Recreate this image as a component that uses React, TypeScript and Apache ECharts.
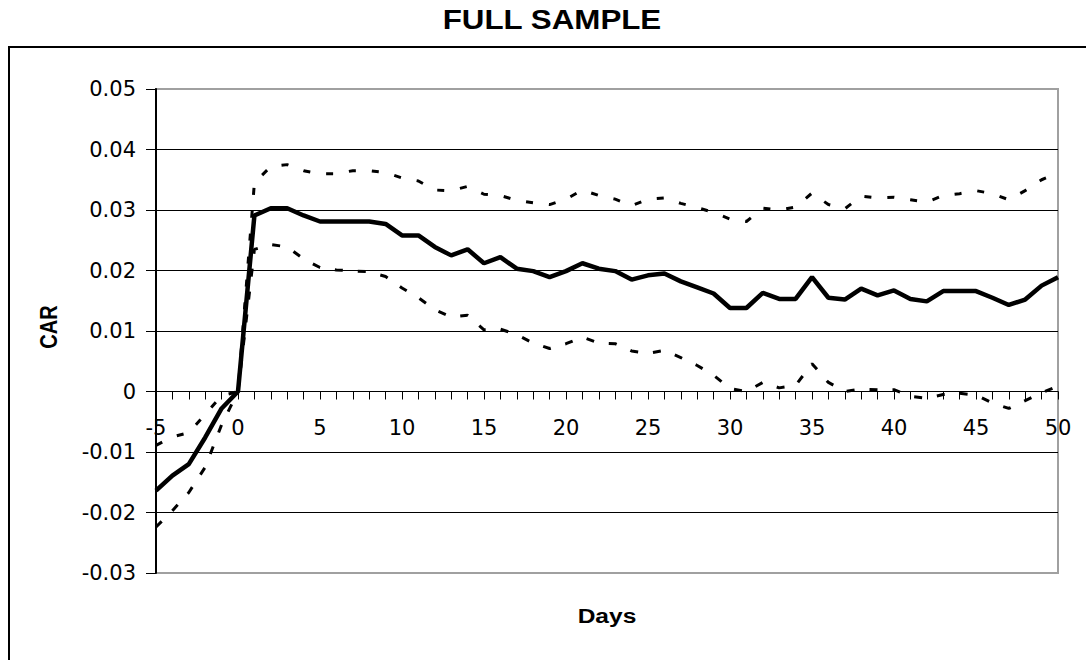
import React, { useEffect, useRef } from "react";
import * as echarts from "echarts";

const TITLE = "FULL SAMPLE";
const X_NAME = "Days";
const Y_NAME = "CAR";

const DAYS = [
  -5, -4, -3, -2, -1, 0, 1, 2, 3, 4, 5, 6, 7, 8, 9, 10, 11, 12, 13, 14, 15, 16, 17, 18, 19, 20,
  21, 22, 23, 24, 25, 26, 27, 28, 29, 30, 31, 32, 33, 34, 35, 36, 37, 38, 39, 40, 41, 42, 43, 44,
  45, 46, 47, 48, 49, 50,
];

const CAR = [
  -0.0164, -0.0139, -0.012, -0.0076, -0.0028, 0.0, 0.0291, 0.0303, 0.0303, 0.0291, 0.0281, 0.0281,
  0.0281, 0.0281, 0.0277, 0.0258, 0.0258, 0.0239, 0.0225, 0.0235, 0.0212, 0.0222, 0.0203, 0.0199,
  0.0189, 0.0199, 0.0212, 0.0203, 0.0199, 0.0185, 0.0192, 0.0195, 0.0182, 0.0172, 0.0162, 0.0138,
  0.0138, 0.0163, 0.0153, 0.0153, 0.0189, 0.0155, 0.0152, 0.017, 0.0159, 0.0167, 0.0153, 0.0149,
  0.0166, 0.0166, 0.0166, 0.0155, 0.0143, 0.0152, 0.0175, 0.0189,
];

const UPPER = [
  -0.0089, -0.0075, -0.0068, -0.0038, -0.0007, 0.0, 0.0345, 0.0372, 0.0375, 0.0365, 0.036, 0.036,
  0.0365, 0.0365, 0.0362, 0.0353, 0.0348, 0.0333, 0.0332, 0.0339, 0.0326, 0.0324, 0.0316, 0.0312,
  0.0309, 0.0318, 0.0333, 0.0324, 0.0318, 0.0307, 0.0318, 0.032, 0.0311, 0.0304, 0.0296, 0.0285,
  0.0281, 0.0303, 0.03, 0.0305, 0.0328, 0.0309, 0.0302, 0.0323, 0.032, 0.0321, 0.0317, 0.0313,
  0.0324, 0.0327, 0.0332, 0.0327, 0.0317, 0.0332, 0.035, 0.0361,
];

const LOWER = [
  -0.0224, -0.0197, -0.0167, -0.0125, -0.0055, 0.0, 0.0235, 0.0243, 0.0239, 0.0219, 0.0205, 0.0201,
  0.0199, 0.0198, 0.019, 0.0171, 0.0155, 0.0135, 0.0123, 0.0126, 0.0102, 0.0103, 0.0094, 0.008,
  0.0071, 0.0079, 0.009, 0.008, 0.0079, 0.0067, 0.0063, 0.0068, 0.0056, 0.0043, 0.0027, 0.0005,
  0.0, 0.0015, 0.0006, 0.001, 0.0046, 0.0015, 0.0, 0.0004, 0.0003, 0.0003, -0.0008, -0.0011,
  -0.0005, -0.0003, -0.0006, -0.0019, -0.0028, -0.0015, -0.0002, 0.0009,
];

const Y_MIN = -0.03;
const Y_MAX = 0.05;
const Y_STEP = 0.01;
const X_MIN = -5;
const X_MAX = 50;
const X_STEP = 5;

const GRID_TOP = 89;
const GRID_BOTTOM_PX = 573;

const pairs = (ys: number[]) => DAYS.map((d, i) => [d, ys[i]]);

export default function App() {
  const ref = useRef<HTMLDivElement>(null);

  useEffect(() => {
    if (!ref.current) return;
    const chart = echarts.init(ref.current, null, { renderer: "svg" });
    const tickFont = "DejaVu Sans";
    // place the x axis where y = 0 falls inside the grid
    const plotH = GRID_BOTTOM_PX - GRID_TOP;
    const zeroOffset = -((0 - Y_MIN) / (Y_MAX - Y_MIN)) * plotH;
    chart.setOption({
      animation: false,
      backgroundColor: "#ffffff",
      grid: {
        left: 156,
        right: 28,
        top: GRID_TOP,
        bottom: 660 - GRID_BOTTOM_PX,
        show: true,
        borderColor: "#a0a0a0",
        borderWidth: 2,
        backgroundColor: "transparent",
      },
      xAxis: {
        type: "value",
        min: X_MIN,
        max: X_MAX,
        interval: X_STEP,
        position: "bottom",
        offset: zeroOffset,
        axisLine: { show: true, onZero: false, lineStyle: { color: "#000", width: 1 } },
        axisTick: { show: true, length: 8, inside: false, lineStyle: { color: "#000", width: 1 } },
        minorTick: { show: true, splitNumber: 5, length: 8, lineStyle: { color: "#000", width: 1 } },
        splitLine: { show: false },
        minorSplitLine: { show: false },
        axisLabel: {
          color: "#000",
          fontFamily: tickFont,
          fontSize: 21,
          margin: 26,
        },
      },
      yAxis: {
        type: "value",
        min: Y_MIN,
        max: Y_MAX,
        interval: Y_STEP,
        axisLine: { show: true, onZero: false, lineStyle: { color: "#000", width: 2 } },
        axisTick: { show: true, length: 10, inside: false, lineStyle: { color: "#000", width: 1 } },
        splitLine: {
          show: true,
          showMinLine: false,
          showMaxLine: false,
          lineStyle: { color: "#000", width: 1 },
        },
        axisLabel: {
          color: "#000",
          fontFamily: tickFont,
          fontSize: 21,
          margin: 20,
          formatter: (v: number) => {
            const r = Math.round(v * 100) / 100;
            return r === 0 ? "0" : String(r);
          },
        },
      },
      series: [
        {
          name: "Upper",
          type: "line",
          data: pairs(UPPER),
          symbol: "none",
          showSymbol: false,
          lineStyle: { color: "#000", width: 3, type: [7, 16], cap: "butt" },
          z: 2,
        },
        {
          name: "Lower",
          type: "line",
          data: pairs(LOWER),
          symbol: "none",
          showSymbol: false,
          lineStyle: { color: "#000", width: 3, type: [8, 15], cap: "butt" },
          z: 2,
        },
        {
          name: "CAR",
          type: "line",
          data: pairs(CAR),
          symbol: "none",
          showSymbol: false,
          lineStyle: { color: "#000", width: 4.5, type: "solid" },
          z: 3,
        },
      ],
      graphic: [
        {
          type: "rect",
          shape: { x: 9, y: 47, width: 1200, height: 800 },
          style: { fill: "none", stroke: "#000", lineWidth: 2 },
          silent: true,
          z: -1,
        },
        {
          type: "text",
          x: 552,
          y: 20,
          scaleX: 1.16,
          style: {
            text: TITLE,
            font: "bold 27px 'Liberation Sans', Arial, sans-serif",
            fill: "#000",
            textAlign: "center",
            textVerticalAlign: "middle",
            align: "center",
            verticalAlign: "middle",
          },
        },
        {
          type: "text",
          x: 607,
          y: 616,
          scaleX: 1.17,
          style: {
            text: X_NAME,
            font: "bold 21px 'Liberation Sans', Arial, sans-serif",
            fill: "#000",
            textAlign: "center",
            textVerticalAlign: "middle",
            align: "center",
            verticalAlign: "middle",
          },
        },
        {
          type: "text",
          x: 49,
          y: 327,
          rotation: Math.PI / 2,
          scaleY: 1.17,
          style: {
            text: Y_NAME,
            font: "bold 20px 'Liberation Sans', Arial, sans-serif",
            fill: "#000",
            textAlign: "center",
            textVerticalAlign: "middle",
            align: "center",
            verticalAlign: "middle",
          },
        },
      ],
    });
    return () => chart.dispose();
  }, []);

  return (
    <div
      ref={ref}
      style={{ position: "absolute", left: 0, top: 0, width: 1086, height: 660 }}
    />
  );
}
